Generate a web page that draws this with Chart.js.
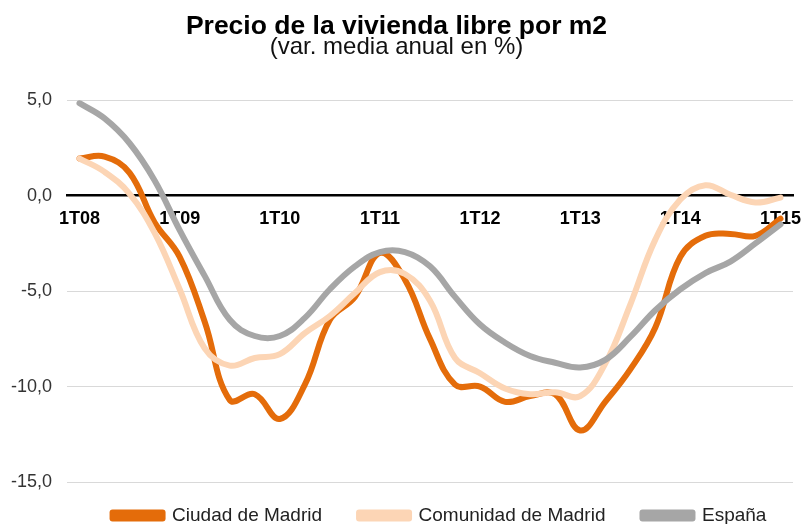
<!DOCTYPE html>
<html>
<head>
<meta charset="utf-8">
<script src="https://cdn.jsdelivr.net/npm/chart.js@4/dist/chart.umd.min.js"></script>
<style>
  html, body { margin: 0; padding: 0; background: #fff; }
  #wrap { width: 803px; height: 524px; }
</style>
</head>
<body>
<div id="wrap"><canvas id="precioChart"></canvas></div>
<script>
// quarterly data, 1T08 .. 1T15
const quarters = [
  "1T08", "2T08", "3T08", "4T08",
  "1T09", "2T09", "3T09", "4T09",
  "1T10", "2T10", "3T10", "4T10",
  "1T11", "2T11", "3T11", "4T11",
  "1T12", "2T12", "3T12", "4T12",
  "1T13", "2T13", "3T13", "4T13",
  "1T14", "2T14", "3T14", "4T14",
  "1T15"
];
const ciudad = [1.95, 2.05, 1.2, -1.4, -3.2, -6.6, -10.7, -10.4, -11.7, -9.9, -6.5, -5.3, -3.0, -4.4, -7.5, -9.9, -10.0, -10.8, -10.5, -10.4, -12.3, -10.8, -9.1, -6.9, -3.2, -2.1, -2.0, -2.1, -1.2];
const comunidad = [1.95, 1.25, 0.1, -1.95, -4.9, -8.0, -8.9, -8.5, -8.3, -7.2, -6.3, -5.1, -4.0, -4.1, -5.5, -8.5, -9.3, -10.1, -10.4, -10.3, -10.5, -8.8, -5.7, -2.3, -0.2, 0.55, 0.05, -0.35, -0.1];
const espana = [4.85, 4.05, 2.75, 0.8, -1.8, -4.2, -6.5, -7.35, -7.35, -6.4, -4.9, -3.7, -2.95, -2.95, -3.7, -5.3, -6.75, -7.7, -8.4, -8.75, -9.0, -8.6, -7.4, -6.0, -4.9, -4.05, -3.45, -2.5, -1.5];
const seriesNames = ["Ciudad de Madrid", "Comunidad de Madrid", "España"];

const FONT = "'Liberation Sans', Arial, Helvetica, sans-serif";

function lineSet(label, data, color, order) {
  return {
    label: label,
    data: data,
    borderColor: color,
    backgroundColor: color,
    borderWidth: 6,
    borderCapStyle: "round",
    borderJoinStyle: "round",
    pointRadius: 0,
    tension: 0.4,
    fill: false,
    order: order
  };
}

// nudge the legend to where the original has it
const legendShift = {
  id: "legendShift",
  afterLayout(chart) {
    const lg = chart.legend;
    lg.left += 43;
    lg.right += 43;
    lg.top -= 13;
    lg.bottom -= 13;
  }
};

const ctx = document.getElementById("precioChart").getContext("2d");

const precioChart = new Chart(ctx, {
  type: "line",
  data: {
    labels: quarters,
    datasets: [
      lineSet(seriesNames[0], ciudad, "#E46C0A", 3),
      lineSet(seriesNames[1], comunidad, "#FCD5B5", 2),
      lineSet(seriesNames[2], espana, "#A6A6A6", 1)
    ]
  },
  options: {
    responsive: true,
    maintainAspectRatio: false,
    animation: false,
    layout: { padding: { left: 0, right: 10, top: 0, bottom: -24 } },
    plugins: {
      title: {
        display: true,
        text: "Precio de la vivienda libre por m2",
        color: "#000",
        font: { family: FONT, size: 26.5, weight: "bold", lineHeight: 1.0 },
        padding: { top: 13, bottom: 0 }
      },
      subtitle: {
        display: true,
        text: "(var. media anual en %)",
        color: "#111",
        font: { family: FONT, size: 24, lineHeight: 0.68 },
        padding: { top: 0, bottom: 44.5 }
      },
      legend: {
        position: "bottom",
        labels: {
          color: "#222",
          font: { family: FONT, size: 19 },
          boxWidth: 50,
          boxHeight: 6,
          padding: 37,
          sort: (a, b) => a.datasetIndex - b.datasetIndex
        }
      },
      tooltip: { enabled: false }
    },
    scales: {
      x: {
        position: { y: 0 },
        offset: true,
        grid: { display: false, drawTicks: false },
        border: { color: "#000", width: 2.5 },
        afterFit: function (scale) {
          scale.paddingLeft = 0;
          scale.paddingRight = 0;
        },
        ticks: {
          autoSkip: false,
          maxRotation: 0,
          padding: 12,
          color: "#000",
          font: { family: FONT, size: 18, weight: "bold" },
          callback: function (value, index) {
            return index % 4 === 0 ? quarters[index] : "";
          }
        }
      },
      y: {
        min: -15,
        max: 5,
        grid: { color: "#D9D9D9", lineWidth: 1, drawTicks: false },
        border: { display: false },
        afterFit: function (scale) { scale.width = 67; },
        ticks: {
          stepSize: 5,
          padding: 15,
          color: "#333",
          font: { family: FONT, size: 18 },
          callback: function (value) {
            return value.toFixed(1).replace(".", ",");
          }
        }
      }
    }
  },
  plugins: [legendShift]
});
</script>
</body>
</html>
